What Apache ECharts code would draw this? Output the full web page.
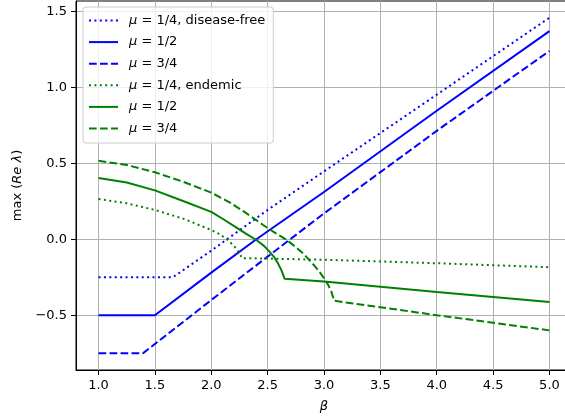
<!DOCTYPE html>
<html>
<head>
<meta charset="utf-8">
<script src="https://cdn.jsdelivr.net/npm/echarts@6/dist/echarts.min.js"></script>
<style>
  html, body { margin: 0; padding: 0; background: #fff; overflow: hidden; }
  #main { width: 580px; height: 417px; }
</style>
</head>
<body>
<div id="main"></div>
<script>
// values, [beta, max Re lambda]
const dfQuarter = [[1.0, -0.25], [1.66, -0.25], [2.0, -0.075], [2.5, 0.193], [3.0, 0.447], [4.0, 0.952], [5.0, 1.459]]
const dfHalf = [[1.0, -0.5], [1.5, -0.5], [2.0, -0.22], [2.4, 0.0], [3.0, 0.311], [4.0, 0.846], [5.0, 1.371]]
const dfThreeQ = [[1.0, -0.75], [1.396, -0.75], [2.0, -0.40], [2.7, 0.0], [3.0, 0.17], [4.0, 0.714], [5.0, 1.24]]

const enQuarter = [[1.0, 0.265], [1.25, 0.237], [1.5, 0.193], [1.75, 0.136], [2.0, 0.061], [2.07, 0.035],
    [2.13, 0.005], [2.2, -0.042], [2.24, -0.08], [2.26, -0.105], [2.27, -0.124], [3.0, -0.135],
    [4.0, -0.158], [5.0, -0.184]]
const enHalf = [[1.0, 0.404], [1.25, 0.374], [1.5, 0.322], [1.75, 0.252], [2.0, 0.18], [2.1, 0.135],
    [2.2, 0.088], [2.3, 0.04], [2.4, -0.005], [2.47, -0.045], [2.52, -0.085], [2.56, -0.12],
    [2.594, -0.162], [2.62, -0.2], [2.638, -0.235], [2.65, -0.26], [3.0, -0.278], [4.0, -0.347],
    [5.0, -0.413]]
const enThreeQ = [[1.0, 0.517], [1.25, 0.489], [1.5, 0.441], [1.75, 0.379], [2.0, 0.307], [2.17, 0.24],
    [2.31, 0.172], [2.46, 0.094], [2.57, 0.04], [2.67, -0.005], [2.75, -0.052], [2.82, -0.097],
    [2.92, -0.178], [2.97, -0.225], [3.01, -0.268], [3.04, -0.305], [3.065, -0.345], [3.08, -0.38],
    [3.089, -0.405], [4.0, -0.50], [5.0, -0.60]]

const xTicks = [1.0, 1.5, 2.0, 2.5, 3.0, 3.5, 4.0, 4.5, 5.0]
const yTicks = [-0.5, 0.0, 0.5, 1.0, 1.5]

const seriesKeys = ['df14', 'df12', 'df34', 'en14', 'en12', 'en34']
const legendLabels = ['{i|μ} = 1/4, disease-free', '{i|μ} = 1/2', '{i|μ} = 3/4',
    '{i|μ} = 1/4, endemic', '{i|μ} = 1/2', '{i|μ} = 3/4']

const BLUE = '#0000ff'
const GREEN = '#008000'
const DOT = [2, 3.4]
const DASH = [7.7, 3.3]
const FONT = 'DejaVu Sans'
const italic = {fontFamily: FONT, fontSize: 13, fontStyle: 'italic', color: '#000'}

// canvas a bit wider than the window: the right spine of the plot sits past the picture's edge
const chart = echarts.init(document.getElementById('main'), null, {renderer: 'canvas'})

function line(key, data, color, type) {
    return {
        name: key,
        type: 'line',
        data: data,
        symbol: 'none',
        showSymbol: false,
        smooth: false,
        lineStyle: {color: color, width: 2, type: type, cap: 'butt'},
        itemStyle: {color: color},
        z: 3,
    }
}

function tickLabel(v) {
    return v.toFixed(1).replace('-', '\u2212')
}

const option = {
    animation: false,
    backgroundColor: '#fff',
    grid: {
        left: 76,
        top: 1,
        width: 496,
        height: 369,
        outerBoundsMode: 'none',
        containLabel: false,
        show: true,
        borderColor: '#000',
        borderWidth: 1,
        backgroundColor: 'transparent',
    },
    legend: {
        orient: 'vertical',
        left: 83,
        top: 7,
        data: seriesKeys,
        itemWidth: 29,
        itemHeight: 14,
        itemGap: 8.6,
        padding: [7, 8, 8, 5],
        backgroundColor: 'rgba(255,255,255,0.8)',
        borderColor: '#cccccc',
        borderWidth: 1,
        borderRadius: 3,
        selectedMode: false,
        itemStyle: {opacity: 0},
        formatter: name => legendLabels[seriesKeys.indexOf(name)],
        textStyle: {
            fontFamily: FONT,
            fontSize: 13,
            color: '#000',
            padding: [0, 0, 0, 6],
            rich: {i: italic},
        },
    },
    xAxis: {
        type: 'value',
        min: 0.8,
        max: 5.2,
        name: '{i|β}',
        nameLocation: 'middle',
        nameGap: 30,
        nameTextStyle: {rich: {i: italic}},
        axisLine: {show: true, onZero: false, lineStyle: {color: '#000', width: 1}},
        axisTick: {show: true, inside: false, length: 5, customValues: xTicks, lineStyle: {color: '#000', width: 1}},
        axisLabel: {
            show: true,
            margin: 9,
            fontFamily: FONT,
            fontSize: 13,
            color: '#000',
            customValues: xTicks,
            formatter: tickLabel,
        },
        splitLine: {show: true, lineStyle: {color: '#b0b0b0', width: 1}},
    },
    yAxis: {
        type: 'value',
        min: -0.861,
        max: 1.569,
        name: 'max ({i|Re λ})',
        nameLocation: 'middle',
        nameGap: 40,
        nameRotate: 90,
        nameTextStyle: {
            fontFamily: FONT,
            fontSize: 13,
            color: '#000',
            rich: {i: italic},
        },
        axisLine: {show: true, onZero: false, lineStyle: {color: '#000', width: 1}},
        axisTick: {show: true, inside: false, length: 5, customValues: yTicks, lineStyle: {color: '#000', width: 1}},
        axisLabel: {
            show: true,
            margin: 9,
            fontFamily: FONT,
            fontSize: 13,
            color: '#000',
            customValues: yTicks,
            formatter: tickLabel,
        },
        splitLine: {show: true, lineStyle: {color: '#b0b0b0', width: 1}},
    },
    series: [
        line('df14', dfQuarter, BLUE, DOT),
        line('df12', dfHalf, BLUE, 'solid'),
        line('df34', dfThreeQ, BLUE, DASH),
        line('en14', enQuarter, GREEN, DOT),
        line('en12', enHalf, GREEN, 'solid'),
        line('en34', enThreeQ, GREEN, DASH),
    ],
}

chart.setOption(option)
</script>
</body>
</html>
